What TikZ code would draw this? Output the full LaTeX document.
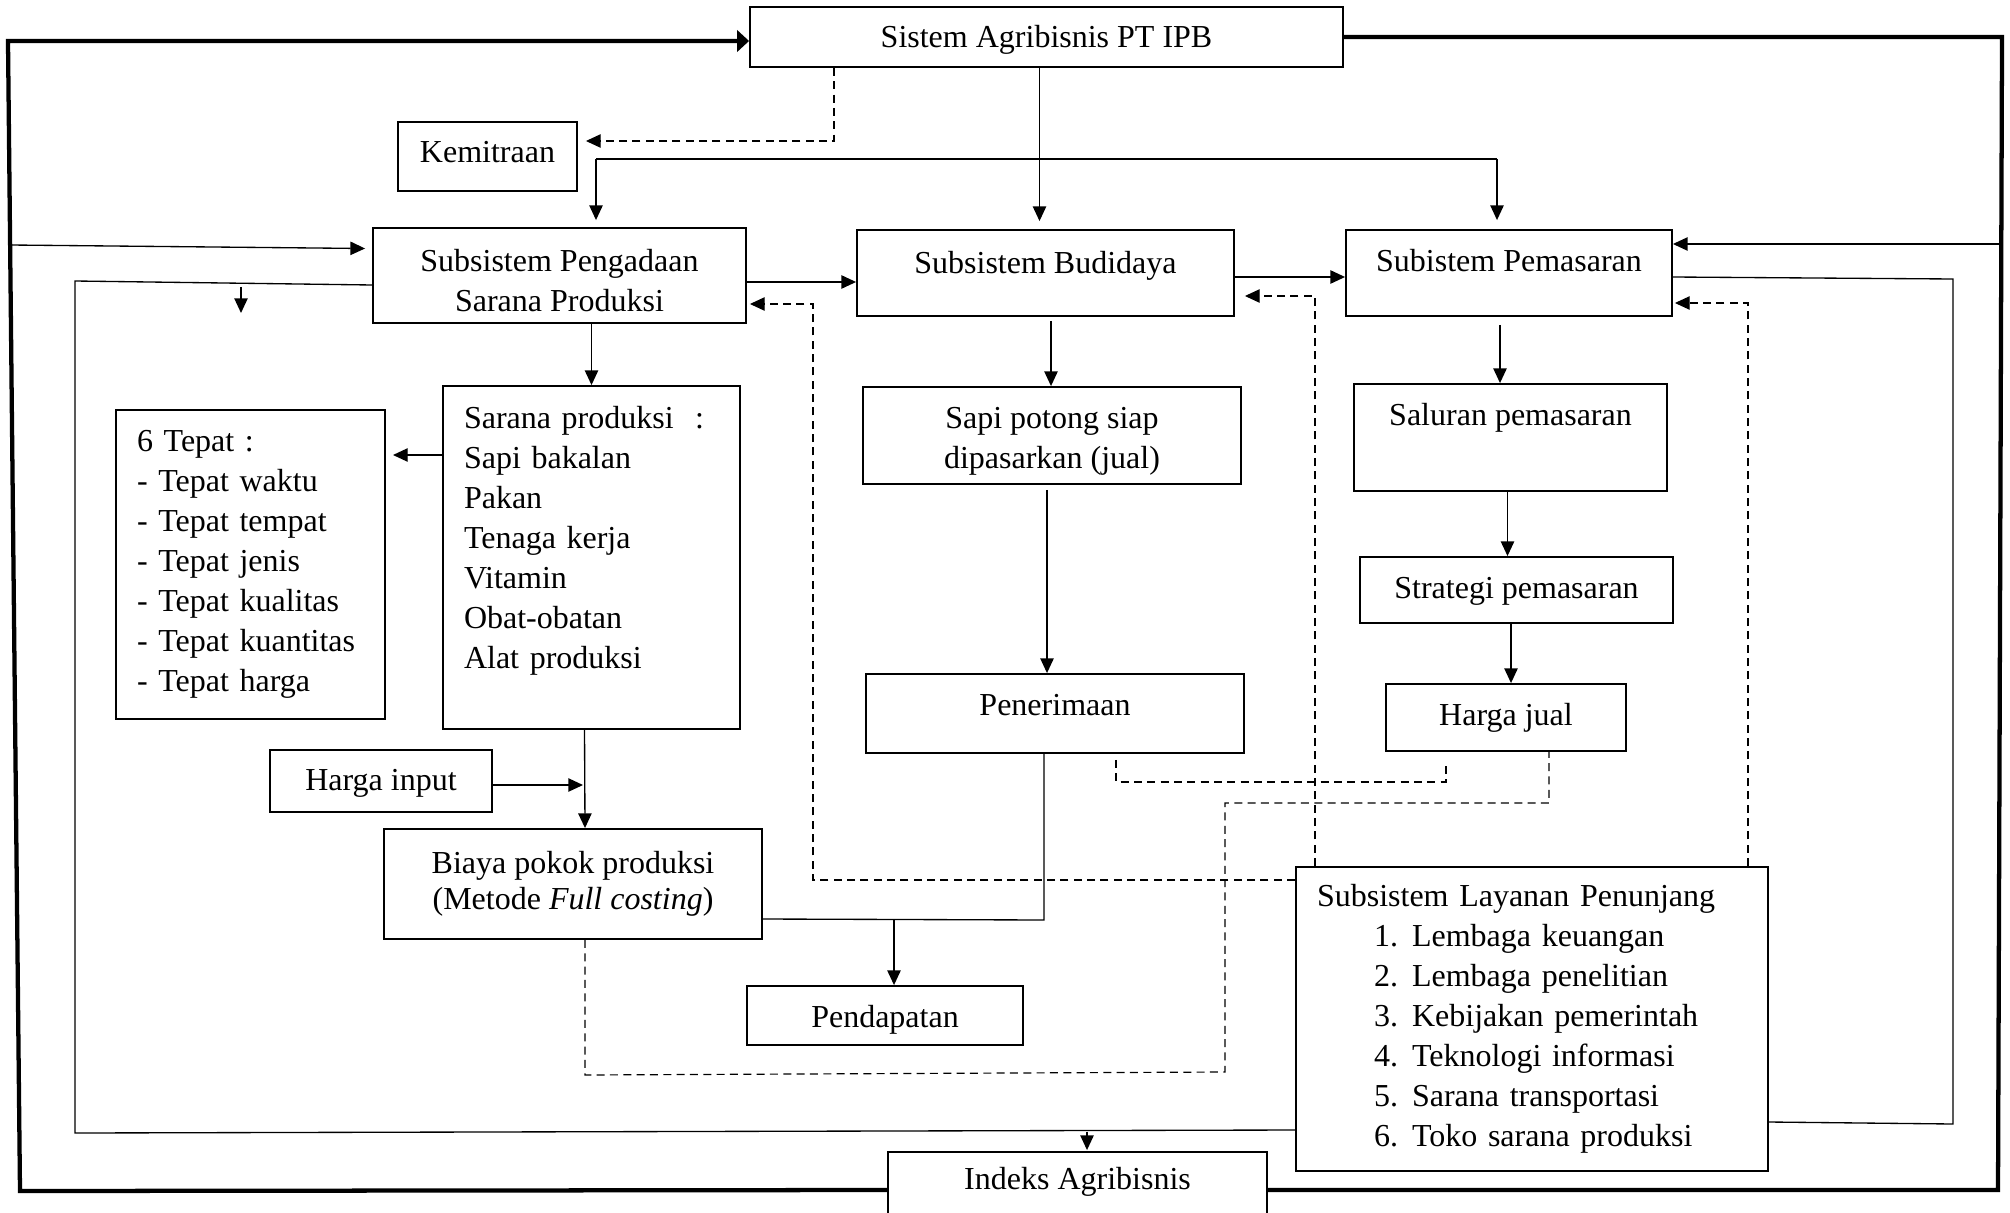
\documentclass[tikz,border=0pt]{standalone}
\usepackage{fontspec}
\setmainfont{Liberation Serif}
\usetikzlibrary{arrows.meta,calc}
\tikzset{
  bx/.style={draw, line width=0.7pt, inner sep=0pt, font=\fontsize{12}{15}\selectfont},
  wh/.style 2 args={minimum width={#1*0.375pt}, minimum height={#2*0.375pt}},
  one/.style={text height=9pt, text depth={3pt+#1*0.75pt}},
  one/.default=0,
  lft/.style={text width={(#1-42)*0.375pt}, inner xsep=7.9pt, inner ysep=0pt, align=left},
  ln/.style={line width=0.5pt},
  arr/.style={-{Triangle[length=5.5pt,width=5pt]}},
  dsh/.style={line width=0.45pt, dash pattern=on 3pt off 2pt},
  thk/.style={line width=1.6pt},
}
\begin{document}
\begin{tikzpicture}[x=0.375pt,y=-0.375pt]
\useasboundingbox (0,0) rectangle (2010,1212);

% boxes
\node[bx, wh={593}{60}, one=-3] (sys) at (1046.5,37) {Sistem Agribisnis PT IPB};
\node[bx, wh={179}{69}, one=2] (kem) at (487.5,156.5) {Kemitraan};
\node[bx, wh={373}{95}, align=center] (peng) at (559.5,275.5) {\rule{0pt}{12pt}Subsistem Pengadaan\\Sarana Produksi};
\node[bx, wh={377}{86}, one=8] (bud) at (1045.5,273) {Subsistem Budidaya};
\node[bx, wh={326}{86}, one=9] (pem) at (1509,273) {Subistem Pemasaran};
\node[bx, wh={297}{343}, lft=297] (sar) at (591.5,557.5) {Sarana produksi\ \ :\\Sapi bakalan\\Pakan\\Tenaga kerja\\Vitamin\\Obat-obatan\\Alat produksi\\\mbox{}};
\node[bx, wh={269}{309}, lft=269] (tep) at (250.5,564.5) {6 Tepat :\\- Tepat waktu\\- Tepat tempat\\- Tepat jenis\\- Tepat kualitas\\- Tepat kuantitas\\- Tepat harga};
\node[bx, wh={222}{62}, one=-1] (hin) at (381,781) {Harga input};
\node[bx, wh={378}{110}, align=center, font=\fontsize{12}{13.5}\selectfont] (bia) at (573,884) {Biaya pokok produksi\\(Metode \textit{Full costing})};
\node[bx, wh={276}{59}, one=-4] (pend) at (885,1015.5) {Pendapatan};
\node[bx, wh={378}{97}, align=center] (sapi) at (1052,435.5) {\rule{0pt}{12pt}Sapi potong siap\\dipasarkan (jual)};
\node[bx, wh={378}{79}, one=6] (pen) at (1055,713.5) {Penerimaan};
\node[bx, wh={313}{107}, one=20] (sal) at (1510.5,437.5) {Saluran pemasaran};
\node[bx, wh={313}{66}, one] (str) at (1516.5,590) {Strategi pemasaran};
\node[bx, wh={240}{67}, one] (hj) at (1506,717.5) {Harga jual};
\node[bx, wh={472}{304}, lft=472] (lay) at (1532,1019) {Subsistem Layanan Penunjang\\
\hspace*{21.4pt}\makebox[14.25pt][l]{1.}Lembaga keuangan\\
\hspace*{21.4pt}\makebox[14.25pt][l]{2.}Lembaga penelitian\\
\hspace*{21.4pt}\makebox[14.25pt][l]{3.}Kebijakan pemerintah\\
\hspace*{21.4pt}\makebox[14.25pt][l]{4.}Teknologi informasi\\
\hspace*{21.4pt}\makebox[14.25pt][l]{5.}Sarana transportasi\\
\hspace*{21.4pt}\makebox[14.25pt][l]{6.}Toko sarana produksi};
\node[bx, wh={379}{70}, one=6] (ind) at (1077.5,1187) {Indeks Agribisnis};

% outer thick loop
\draw[thk, -{Triangle[length=4.5pt,width=8pt]}] ($(ind.west)+(0,3)$) -- (20,1191) -- (8,41) -- ($(sys.west)+(0,4)$);
\draw[thk] (sys.east) -- (2002,37) -- (1998,1190) -- ($(ind.east)+(0,3)$);

% thin arrows from the loop
\coordinate (L1) at (10,245);
\coordinate (R1) at (2001,244);
\draw[ln,arr] (L1) -- ($(peng.west)+(-7,-27)$);
\draw[ln,arr] (R1) -- ($(pem.east)+(0,-29)$);

% Sistem -> Budidaya
\coordinate (s1) at ($(sys.south)+(-7,0)$);
\draw[ln,arr] (s1) -- ($(s1 |- bud.north)+(0,-8)$);

% Sistem -> Kemitraan (dashed)
\coordinate (d0) at ($(sys.south)+(-212.5,0)$);
\draw[dsh,arr] (d0) |- ($(kem.east)+(8,-15.5)$);

% distribution line
\coordinate (k1) at (596,159);
\coordinate (k2) at (1497,159);
\draw[ln] (k1) -- (k2);
\draw[ln,arr] (k1) -- ($(k1 |- peng.north)+(0,-7)$);
\draw[ln,arr] (k2) -- ($(k2 |- pem.north)+(0,-9)$);

% subsystem chain
\draw[ln,arr] ($(peng.east)+(0,6.5)$) -- ($(bud.west)+(0,9)$);
\draw[ln,arr] ($(bud.east)+(0,4)$) -- ($(pem.west)+(0,4)$);

% feedback dashed from Layanan
\coordinate (c1) at (813,880);
\coordinate (c2) at (813,304);
\draw[dsh,arr] ($(lay.west)+(0,-139)$) -- (c1) -- (c2) -- ($(peng.east)+(3,28.5)$);
\draw[dsh,arr] ($(lay.north)+(-217,0)$) |- ($(bud.east)+(10,23)$);
\draw[dsh,arr] ($(lay.north)+(216,0)$) |- ($(pem.east)+(2,30)$);

% Pemasaran -> Layanan
\coordinate (c3) at (1953,279);
\coordinate (c4) at (1953,1124);
\draw[ln] ($(pem.east)+(0,4)$) -- (c3) -- (c4) -- ($(lay.east)+(0,103)$);

% Pengadaan -> Layanan / Indeks
\coordinate (c5) at (75,281);
\coordinate (c6) at (75,1133);
\draw[ln] ($(peng.west)+(0,9.5)$) -- (c5) -- (c6) -- ($(lay.west)+(0,111)$);
\coordinate (c7) at (1087,1131.5);
\draw[ln,arr] (c7) -- ($(ind.north)+(9.5,-1)$);

% small standalone arrow
\coordinate (a1) at (241,287);
\coordinate (a2) at (241,313);
\draw[ln,arr] (a1) -- (a2);

% Pengadaan column
\draw[ln,arr] (peng.south -| sar.north) -- (sar.north);
\draw[ln,arr] ($(sar.west)+(0,-102.5)$) -- ($(tep.east)+(7,-109.5)$);
\draw[ln,arr] ($(sar.south)+(-7,0)$) -- ($(bia.north)+(12,0)$);
\coordinate (hv) at (583,785);
\draw[ln,arr] ($(hin.east)+(0,4)$) -- (hv);

% Pendapatan
\coordinate (j0) at (894,919);
\coordinate (j1) at (1044,920);
\draw[ln] ($(bia.east)+(0,35)$) -- (j1) -- (j1 |- pen.south);
\draw[ln,arr] (j0) -- ($(pend.north)+(9,0)$);

% Budidaya column
\draw[ln,arr] ($(bud.south)+(5.5,4)$) -- ($(sapi.north)+(-1,0)$);
\draw[ln,arr] ($(sapi.south)+(-5,5)$) -- ($(pen.north)+(-8,0)$);

% Pemasaran column
\draw[ln,arr] ($(pem.south)+(-9,8)$) -- ($(sal.north)+(-10.5,0)$);
\draw[ln,arr] ($(sal.south)+(-3,0)$) -- ($(str.north)+(-9,0)$);
\draw[ln,arr] ($(str.south)+(-5.5,0)$) -- ($(hj.north)+(5,0)$);

% dashed Penerimaan - Harga jual
\draw[dsh] ($(pen.south)+(61,6)$) -- ($(pen.south)+(61,28)$) -| ($(hj.south)+(-60,10)$);

% dashed Biaya - Harga jual
\coordinate (e1) at (585,1075);
\coordinate (e2) at (1225,1072);
\coordinate (e3) at (1225,803);
\coordinate (e4) at (1549,803);
\draw[dsh] ($(bia.south)+(12,0)$) -- (e1) -- (e2) -- (e3) -- (e4) -- ($(hj.south)+(43,0)$);
\end{tikzpicture}
\end{document}
